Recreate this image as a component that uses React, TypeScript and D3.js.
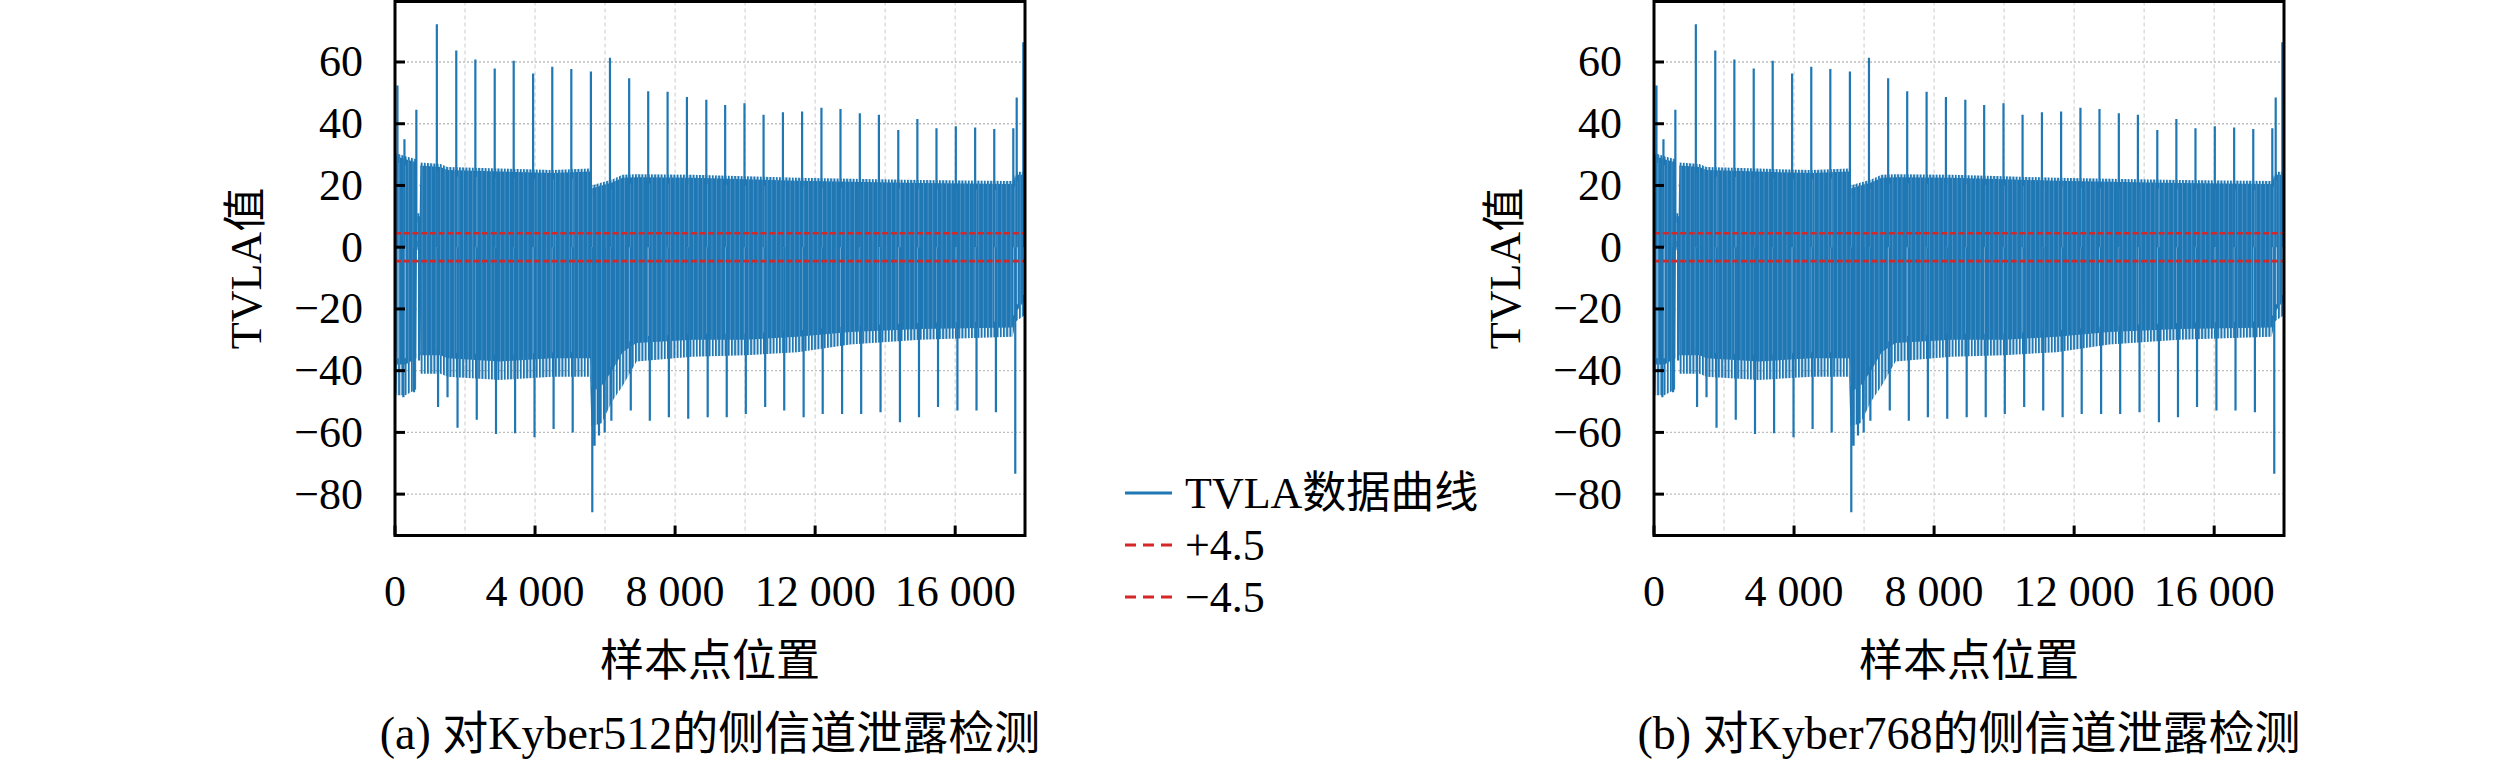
import React from 'react';
import * as d3 from 'd3';

// envelope of the dense TVLA band (sample index, upper edge, solid lower edge, ragged lower fringe)
const bandSamples = [0, 40, 300, 610, 628, 705, 722, 1300, 1500, 3000, 4500, 5570, 5610, 5900, 6200, 6500, 6900, 8500, 10000, 11500, 13000, 15000, 17640, 17740, 17994];
const bandTop = [20, 29.5, 28.5, 27.5, 10, 10, 26.5, 26, 25, 24.5, 24, 24.5, 19, 20, 21, 22.5, 22.7, 22.5, 22, 21.5, 21.2, 20.8, 20.5, 23.5, 23.5];
const bandSolid = [-22, -38, -38, -36, 0, 0, -35, -35, -36, -37, -36, -36, -47, -45, -40, -34, -31, -30, -30, -29, -27.5, -26.5, -26, -21, -17];
const bandFringe = [-28, -48, -48, -46, -1, -1, -41, -41, -42, -43, -42, -42, -58, -57, -50, -45, -37, -35.5, -35, -34, -31.5, -30, -29, -24, -22];

// periodic upward spikes
const spikeSamples = [70, 270, 610, 1195, 1750, 2295, 2848, 3390, 3945, 4492, 5036, 5595, 6140, 6688, 7232, 7786, 8338, 8892, 9430, 9982, 10527, 11080, 11628, 12180, 12724, 13276, 13821, 14375, 14920, 15466, 16018, 16570, 17116, 17660, 17757, 17946];
const spikeValues = [52.4, 35, 44.5, 72.2, 63.7, 60.8, 57.9, 60.4, 56.3, 58.5, 57.7, 56.9, 61.4, 54.7, 50.5, 50.4, 48.7, 47.8, 46.1, 46.6, 42.9, 43.7, 44.0, 45.2, 44.8, 43.4, 42.9, 38.0, 41.5, 38.5, 39.2, 38.8, 38.3, 38.5, 48.5, 66.4];

// downward spikes
const dipSamples = [239, 544, 688, 1230, 1500, 1786, 2335, 2885, 3430, 3985, 4530, 5075, 5635, 5700, 5826, 5989, 6180, 6734, 7278, 7822, 8375, 8931, 9475, 10020, 10573, 11117, 11671, 12216, 12770, 13315, 13868, 14422, 14966, 15510, 16064, 16609, 17163, 17716];
const dipValues = [-48.6, -47, -36.7, -51.8, -48.6, -58.5, -55.9, -60.5, -60.3, -61.6, -58.9, -60, -85.9, -64.3, -61, -60, -56.2, -52.9, -56.2, -55.1, -55.6, -55.1, -55.1, -54, -51.8, -52.9, -55.1, -54, -54, -54, -53.5, -56.7, -55.1, -51.8, -52.9, -52.9, -53.5, -73.4];

const xTicks = [0, 4000, 8000, 12000, 16000];
const xGrid = [2000, 4000, 6000, 8000, 10000, 12000, 14000, 16000];
const yTicks = [60, 40, 20, 0, -20, -40, -60, -80];
const thresholds = [4.5, -4.5];
const legendLabels = ['TVLA数据曲线', '+4.5', '−4.5'];
const captions = ['(a) 对Kyber512的侧信道泄露检测', '(b) 对Kyber768的侧信道泄露检测'];

const W = 2520;
const H = 761;
const FONT = "'Liberation Serif', 'Noto Sans CJK SC', serif";
const FS = 44;
const BLUE = '#1f77b4';
const RED = '#d62728';
const panelLeft = [395, 1654];
const PW = 630;
const PT = 1.5;
const PB = 535.5;

const fmtX = (v: number) => d3.format(',')(v).replace(/,/g, ' ');
const fmtY = (v: number) => (v < 0 ? '−' + Math.abs(v) : String(v));

function Panel({ left, caption, id }: { left: number; caption: string; id: string }) {
  const x = d3.scaleLinear().domain([0, 17994]).range([left, left + PW]);
  const y = d3.scaleLinear().domain([-93.4, 79.6]).range([PB, PT]);
  const topAt = d3.scaleLinear().domain(bandSamples).range(bandTop);
  const solidAt = d3.scaleLinear().domain(bandSamples).range(bandSolid);

  const solidArea = d3
    .area<number>()
    .x((d) => x(d))
    .y0((_, i) => y(bandSolid[i]))
    .y1((_, i) => y(bandTop[i]));
  const fringeArea = d3
    .area<number>()
    .x((d) => x(d))
    .y0((_, i) => y(bandFringe[i]))
    .y1((_, i) => y(bandSolid[i]) - 4);
  const topFringe = d3
    .area<number>()
    .x((d) => x(d))
    .y0((_, i) => y(bandTop[i]) + 3)
    .y1((_, i) => y(bandTop[i]) - 3);

  const spikes = spikeSamples.map((s, i) => `M${x(s)},${y(0)}V${y(spikeValues[i])}`).join('');
  const dips = dipSamples.map((s, i) => `M${x(s)},${y(0)}V${y(dipValues[i])}`).join('');
  const streaks = spikeSamples
    .map((s) => `M${x(s + 18)},${y(topAt(s + 18) - 2)}V${y(solidAt(s + 18) + 2)}`)
    .join('');

  const cx = left + PW / 2;

  return (
    <g>
      <defs>
        <clipPath id={id}>
          <rect x={left} y={PT} width={PW} height={PB - PT} />
        </clipPath>
        <pattern id={id + 'fr'} patternUnits="userSpaceOnUse" x={left} y={0} width={3.2} height={8}>
          <rect x={0} y={0} width={2} height={8} fill={BLUE} />
        </pattern>
        <pattern id={id + 'bd'} patternUnits="userSpaceOnUse" x={left} y={0} width={4.6} height={8}>
          <rect x={0} y={0} width={4.6} height={8} fill={BLUE} />
          <rect x={3.8} y={0} width={0.8} height={8} fill="#4f95c9" />
        </pattern>
      </defs>
      {/* grid */}
      {xGrid.map((g) => (
        <line key={'gx' + g} x1={x(g)} x2={x(g)} y1={PT} y2={PB} stroke="#d4d4d4" strokeWidth={1.2} strokeDasharray="4,3" />
      ))}
      {yTicks.map((t) => (
        <line key={'gy' + t} x1={left} x2={left + PW} y1={y(t)} y2={y(t)} stroke="#bdbdbd" strokeWidth={1.4} strokeDasharray="2,2" />
      ))}
      <g clipPath={`url(#${id})`}>
        <path d={fringeArea(bandSamples) ?? ''} fill={`url(#${id}fr)`} />
        <path d={topFringe(bandSamples) ?? ''} fill={`url(#${id}fr)`} />
        <path d={solidArea(bandSamples) ?? ''} fill={`url(#${id}bd)`} />
        <path d={streaks} stroke="#a3cbe9" strokeWidth={1.1} fill="none" />
        <path d={spikes} stroke={BLUE} strokeWidth={2.2} fill="none" />
        <path d={dips} stroke={BLUE} strokeWidth={2.2} fill="none" />
        {thresholds.map((t) => (
          <line key={'th' + t} x1={left} x2={left + PW} y1={y(t)} y2={y(t)} stroke={RED} strokeWidth={2.6} strokeDasharray="6,2.7" />
        ))}
      </g>
      {/* ticks */}
      {yTicks.map((t) => (
        <line key={'ty' + t} x1={left} x2={left + 10} y1={y(t)} y2={y(t)} stroke="#000" strokeWidth={3} />
      ))}
      {xTicks.map((t) => (
        <line key={'tx' + t} x1={x(t)} x2={x(t)} y1={PB} y2={PB - 10} stroke="#000" strokeWidth={3} />
      ))}
      <rect x={left} y={PT} width={PW} height={PB - PT} fill="none" stroke="#000" strokeWidth={3} />
      {/* tick labels */}
      {yTicks.map((t) => (
        <text key={'ly' + t} x={left - 32} y={y(t) + 14.5} textAnchor="end" fontSize={FS} style={{ fontFamily: FONT }}>
          {fmtY(t)}
        </text>
      ))}
      {xTicks.map((t) => (
        <text key={'lx' + t} x={x(t)} y={606} textAnchor="middle" fontSize={FS} style={{ fontFamily: FONT }}>
          {fmtX(t)}
        </text>
      ))}
      <text x={cx} y={676} textAnchor="middle" fontSize={FS} style={{ fontFamily: FONT }}>
        样本点位置
      </text>
      <text
        transform={`translate(${left - 134},${(PT + PB) / 2}) rotate(-90)`}
        textAnchor="middle"
        fontSize={FS}
        style={{ fontFamily: FONT }}
      >
        TVLA值
      </text>
      <text x={cx} y={749} textAnchor="middle" fontSize={46} style={{ fontFamily: FONT }}>
        {caption}
      </text>
    </g>
  );
}

export default function App() {
  const rows = d3.scaleBand<number>().domain([0, 1, 2]).range([467, 623]);
  const styles = [
    { stroke: BLUE, dash: undefined as string | undefined },
    { stroke: RED, dash: '11,7' },
    { stroke: RED, dash: '11,7' },
  ];
  return (
    <svg width={W} height={H} style={{ position: 'absolute', left: 0, top: 0, background: '#fff' }}>
      <rect width={W} height={H} fill="#fff" />
      {captions.map((c, i) => (
        <Panel key={c} left={panelLeft[i]} caption={c} id={'clip' + i} />
      ))}
      {legendLabels.map((l, i) => {
        const cy = (rows(i) ?? 0) + rows.bandwidth() / 2;
        return (
          <g key={l}>
            <line x1={1125} x2={1172} y1={cy} y2={cy} stroke={styles[i].stroke} strokeWidth={3} strokeDasharray={styles[i].dash} />
            <text x={1185} y={cy + 15} fontSize={FS} style={{ fontFamily: FONT }}>
              {l}
            </text>
          </g>
        );
      })}
    </svg>
  );
}
